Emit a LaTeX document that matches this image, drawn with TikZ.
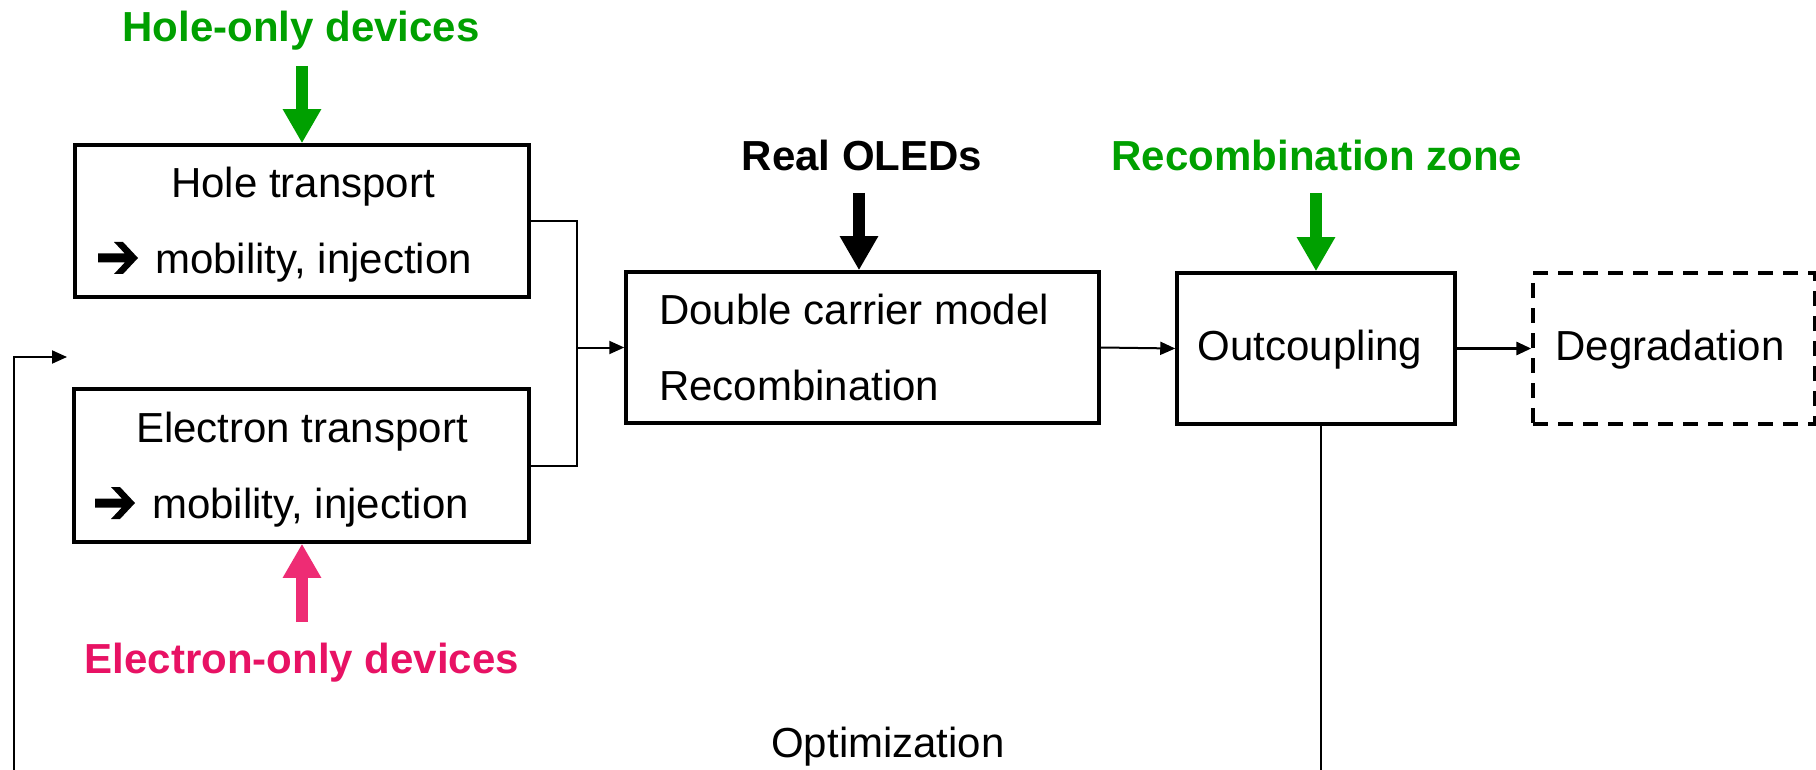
\documentclass[tikz,border=0pt]{standalone}
\usepackage{fontspec}
\setmainfont{Liberation Sans}
\usetikzlibrary{arrows.meta}
\definecolor{hgreen}{RGB}{0,160,0}
\definecolor{epink}{RGB}{232,18,100}
\definecolor{apink}{RGB}{238,44,116}
\tikzset{
  box/.style={draw, line width=3.5pt, inner sep=0pt},
  conn/.style={line width=2pt},
  connarrow/.style={line width=2pt, -{Triangle[length=15pt,width=13pt]}},
  bigarrow/.style={line width=12pt, -{Triangle[length=34pt,width=36pt]}},
  txt/.style={font=\fontsize{42}{50}\selectfont, inner sep=0pt},
  btxt/.style={font=\fontsize{42}{50}\selectfont\bfseries, inner sep=0pt},
  heavyarrow/.pic={
    \fill[black] (0,-4.5) -- (26.8,-4.5) -- (16,-16) -- (25,-16) -- (40,0)
      -- (25,16) -- (16,16) -- (26.8,4.5) -- (0,4.5) -- cycle;
  },
}
\begin{document}
\begin{tikzpicture}[x=1pt,y=-1pt]
\useasboundingbox (0,0) rectangle (1816,770);
\fill[white] (0,0) rectangle (1816,770);

% boxes
\node[box, minimum width=454pt, minimum height=152pt] (hole) at (302,221) {};
\node[box, minimum width=455pt, minimum height=153pt] (elec) at (301.5,465.5) {};
\node[box, minimum width=473pt, minimum height=151pt] (dbl) at (862.5,347.5) {};
\node[box, minimum width=278pt, minimum height=151pt] (out) at (1316,348.5) {};
\node[draw, line width=3.5pt, dash pattern=on 15pt off 10pt, inner sep=0pt,
      minimum width=282pt, minimum height=151pt] (deg) at (1674,348.5) {};

% box texts
\node[txt, anchor=base] (holeT) at (303,198) {Hole transport};
\pic at (98,258) {heavyarrow};
\node[txt, anchor=base west] (holeM) at (155,273) {mobility, injection};
\node[txt, anchor=base] (elecT) at (302,442) {Electron transport};
\pic at (95,503) {heavyarrow};
\node[txt, anchor=base west] (elecM) at (152,518) {mobility, injection};
\node[txt, anchor=base west] (dblA) at (659,324) {Double carrier model};
\node[txt, anchor=base west] (dblB) at (659,400) {Recombination};
\node[txt, anchor=base] (outT) at (1310,360) {Outcoupling};
\node[txt, anchor=base] (degT) at (1670,360) {Degradation};
\node[txt, anchor=base] (opt) at (888,757) {Optimization};

% labels
\node[btxt, text=hgreen, anchor=base] (holeonly) at (301,42) {Hole-only devices};
\node[btxt, text=epink, anchor=base] (eonly) at (302,673) {Electron-only devices};
\node[btxt, anchor=base] (real) at (862,171) {Real OLEDs};
\node[btxt, text=hgreen, anchor=base] (rzone) at (1317,171) {Recombination zone};

% big arrows
\coordinate (ha) at (302,66);
\coordinate (pa) at (302,622);
\coordinate (ra) at (859,193);
\coordinate (ga) at (1316,193);
\draw[bigarrow, hgreen] (ha) -- (ha |- hole.north);
\draw[bigarrow, apink] (pa) -- (pa |- elec.south);
\draw[bigarrow, black] (ra) -- (ra |- dbl.north);
\draw[bigarrow, hgreen] (ga) -- (ga |- out.north);

% connectors
\coordinate (jt) at (577,221);
\coordinate (jb) at (577,465.5);
\coordinate (jm) at (577,347.5);
\draw[conn] (hole.east) -- (jt) -- (jb) -- (elec.east);
\draw[connarrow] (jm) -- (dbl.west);
\draw[connarrow] (dbl.east) -- (out.west);
\draw[line width=3pt, -{Triangle[length=15pt,width=13pt]}] (out.east) -- (deg.west);
\coordinate (ob) at (1321,770);
\draw[conn] (ob |- out.south) -- (ob);
\coordinate (fb0) at (14,770);
\coordinate (fb1) at (14,357);
\coordinate (fb2) at (67,357);
\draw[connarrow] (fb0) -- (fb1) -- (fb2);
\end{tikzpicture}
\end{document}
